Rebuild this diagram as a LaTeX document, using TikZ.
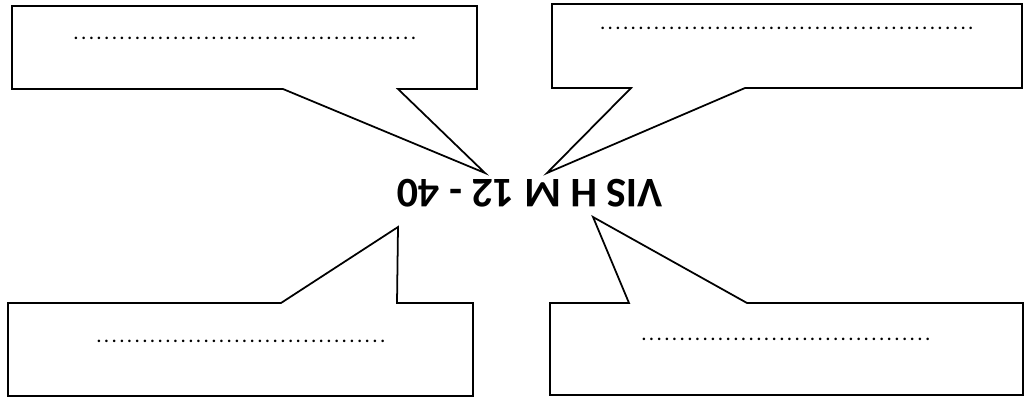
\documentclass[tikz,border=0pt]{standalone}
\usepackage{fontspec}
\setmainfont{Carlito}
\usetikzlibrary{positioning}
\newcommand{\fillin}[1]{\foreach \k in {1,...,#1}{\makebox[4.37pt]{.}}}

\begin{document}
\begin{tikzpicture}[
    x=0.02cm,y=-0.02cm,
    bubble/.style={draw=black,line width=1pt,line join=miter,fill=white},
    fillin/.style={font=\large,inner sep=0pt},
    part/.style={font=\bfseries\fontsize{24}{24}\selectfont,rotate=180,inner sep=0pt}
  ]
    \useasboundingbox (0,0) rectangle (1027,403);

    \node[part] (part) at (530,193) {VIS H M 12 - 40};

    % tips of the four callouts, next to the part label
    \coordinate (tltip) at (485,173);
    \coordinate (trtip) at (547,173);
    \coordinate (bltip) at (398,227);
    \coordinate (brtip) at (593,217);

    \draw[bubble] (12,6) -- (477,6) -- (477,89) -- (398,89) -- (tltip)
      -- (283,89) -- (12,89) -- cycle;
    \draw[bubble] (552,4) -- (1022,4) -- (1022,88) -- (745,88) -- (trtip)
      -- (631,88) -- (552,88) -- cycle;
    \draw[bubble] (8,303) -- (281,303) -- (bltip) -- (397,303) -- (473,303)
      -- (473,396) -- (8,396) -- cycle;
    \draw[bubble] (550,303) -- (629,303) -- (brtip) -- (747,303) -- (1023,303)
      -- (1023,395) -- (550,395) -- cycle;

    \node[fillin] (tlnote) at (245,38) {\fillin{45}};
    \node[fillin] (trnote) at (787,28) {\fillin{49}};
    \node[fillin] (blnote) at (241,341) {\fillin{38}};
    \node[fillin] (brnote) at (786,339) {\fillin{38}};
  \end{tikzpicture}
\end{document}
